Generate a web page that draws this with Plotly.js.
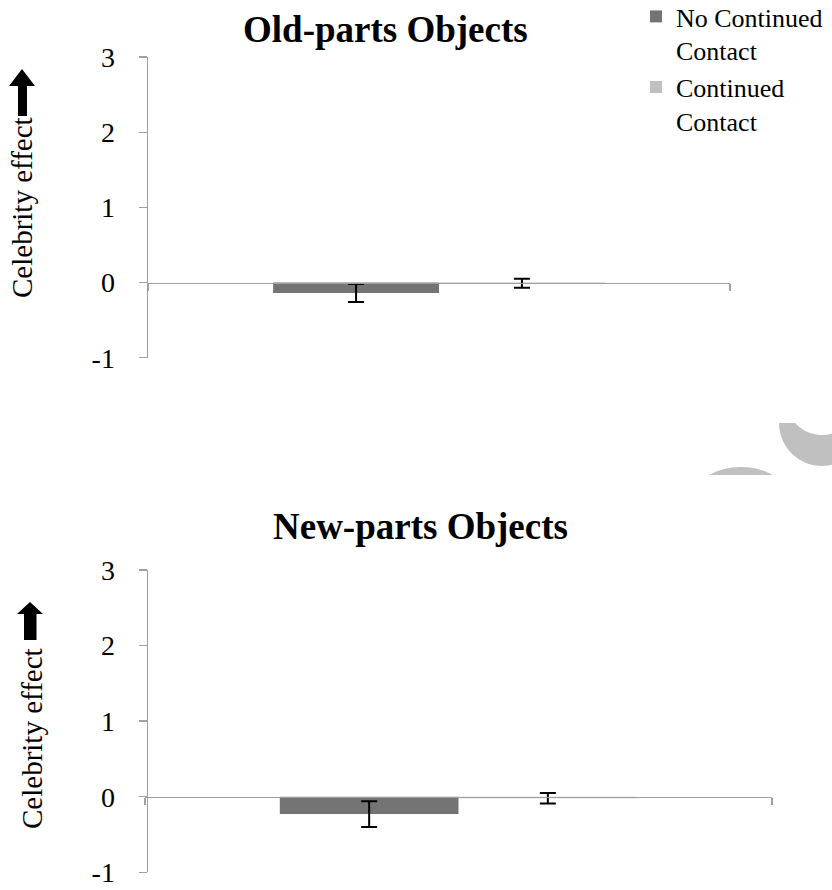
<!DOCTYPE html>
<html>
<head>
<meta charset="utf-8">
<script src="https://cdn.plot.ly/plotly-3.0.1.min.js"></script>
<style>html,body{margin:0;padding:0;background:#fff;}#chart{width:832px;height:890px;}</style>
</head>
<body>
<div id="chart"></div>
<script>
// ---- data ----
const categoriesTop = ['Old-parts Objects'];
const categoriesBottom = ['New-parts Objects'];
const seriesLabels = ['No Continued<br>Contact', 'Continued<br>Contact'];
const oldNoContact = [-0.14];
const oldNoContactErr = [0.12];
const oldContact = [-0.01];
const oldContactErr = [0.06];
const newNoContact = [-0.23];
const newNoContactErr = [0.17];
const newContact = [-0.02];
const newContactErr = [0.07];
const yTicks = [-1, 0, 1, 2, 3];
const yTickText = ['-1', '0', '1', '2', '3'];
const yTitle = 'Celebrity effect';

// ---- helpers (pixel -> paper, margins are zero) ----
const W = 832, H = 890;
const px = x => x / W;
const py = y => 1 - y / H;
function path(pts) {
  return 'M' + pts.map(p => px(p[0]).toFixed(5) + ',' + py(p[1]).toFixed(5)).join(' L') + ' Z';
}
function arc(cx, cy, r, a0, a1, n) {
  const out = [];
  for (let i = 0; i <= n; i++) {
    const a = (a0 + (a1 - a0) * i / n) * Math.PI / 180;
    out.push([cx + r * Math.cos(a), cy + r * Math.sin(a)]);
  }
  return out;
}

const FONT = 'Liberation Serif, Times New Roman, serif';
const darkC = '#747474';
const lightC = '#c0c0c0';
const axisC = '#a0a0a0';

// domains (pixel positions of axes)
const topDom = {x: [px(148), px(730)], y: [py(357.7), py(57.2)]};
const botDom = {x: [px(145), px(772)], y: [py(872.3), py(570)]};
const zeroPos = d => d.y[0] + (0 - (-1)) / 4 * (d.y[1] - d.y[0]);

function errBar(arr) {
  return {type: 'data', array: arr, visible: true, color: '#000', thickness: 2, width: 8};
}

const traces = [
  {type: 'bar', x: categoriesTop, y: oldNoContact, name: seriesLabels[0], legendgroup: 'a',
   marker: {color: darkC}, error_y: errBar(oldNoContactErr), xaxis: 'x', yaxis: 'y'},
  {type: 'bar', x: categoriesTop, y: oldContact, name: seriesLabels[1], legendgroup: 'b',
   marker: {color: lightC}, error_y: errBar(oldContactErr), xaxis: 'x', yaxis: 'y'},
  {type: 'bar', x: categoriesBottom, y: newNoContact, name: seriesLabels[0], legendgroup: 'a', showlegend: false,
   marker: {color: darkC}, error_y: errBar(newNoContactErr), xaxis: 'x2', yaxis: 'y2'},
  {type: 'bar', x: categoriesBottom, y: newContact, name: seriesLabels[1], legendgroup: 'b', showlegend: false,
   marker: {color: lightC}, error_y: errBar(newContactErr), xaxis: 'x2', yaxis: 'y2'}
];

function yAxis(dom) {
  return {domain: dom.y, range: [-1, 3], tickvals: yTicks, ticktext: yTickText, showline: true, linecolor: axisC, linewidth: 1.5,
    ticks: 'outside', ticklen: 8, tickcolor: axisC, tickwidth: 1.5, showgrid: false, zeroline: false, automargin: false,
    tickfont: {family: FONT, size: 28, color: '#000'}, ticklabelstandoff: 18, fixedrange: true};
}
function xAxis(dom) {
  return {domain: dom.x, type: 'category', range: [-0.5, 0.5], anchor: 'free', position: zeroPos(dom),
    showline: true, linecolor: axisC, linewidth: 1.5, ticks: 'outside', tickson: 'boundaries', ticklen: 7, automargin: false,
    tickcolor: axisC, tickwidth: 1.5, showticklabels: false, showgrid: false, zeroline: false, fixedrange: true};
}

// decorative grey crescent and cap on the right edge
const ringOuter = arc(822, 423, 43, 180, 0, 40);
const innerA0 = Math.atan2(423 - 399, 26.83) * 180 / Math.PI;
const ringInner = arc(822, 399, 36, innerA0, 180 - innerA0, 30);
const crescent = ringOuter.concat(ringInner);
const capA = Math.asin((535 - 475) / 68) * 180 / Math.PI;
const cap = arc(741, 535, 68, 180 + capA, 360 - capA, 30);

const layout = {
  width: W, height: H,
  margin: {l: 0, r: 0, t: 0, b: 0, autoexpand: false},
  paper_bgcolor: '#fff', plot_bgcolor: 'rgba(0,0,0,0)',
  barmode: 'group', bargap: 0.43, bargroupgap: 0,
  showlegend: true,
  legend: {x: px(636), y: py(-7), xanchor: 'left', yanchor: 'top', traceorder: 'normal', valign: 'top',
    font: {family: FONT, size: 26, color: '#000'}, bgcolor: 'rgba(0,0,0,0)', borderwidth: 0},
  xaxis: xAxis(topDom),
  yaxis: yAxis(topDom),
  xaxis2: xAxis(botDom),
  yaxis2: yAxis(botDom),
  annotations: [
    {text: '<b>Old-parts Objects</b>', xref: 'paper', yref: 'paper', x: px(385), y: py(30), xanchor: 'center', yanchor: 'middle',
     showarrow: false, font: {family: FONT, size: 37, color: '#000'}},
    {text: '<b>New-parts Objects</b>', xref: 'paper', yref: 'paper', x: px(420), y: py(526), xanchor: 'center', yanchor: 'middle',
     showarrow: false, font: {family: FONT, size: 37, color: '#000'}},
    {text: yTitle, xref: 'paper', yref: 'paper', x: px(22), y: py(208), xanchor: 'center', yanchor: 'middle', textangle: -90,
     showarrow: false, font: {family: FONT, size: 29, color: '#000'}},
    {text: yTitle, xref: 'paper', yref: 'paper', x: px(32), y: py(739), xanchor: 'center', yanchor: 'middle', textangle: -90,
     showarrow: false, font: {family: FONT, size: 29, color: '#000'}}
  ],
  shapes: [
    {type: 'path', xref: 'paper', yref: 'paper', fillcolor: '#000', line: {width: 0},
     path: path([[22, 69], [35, 86], [27, 86], [27, 116], [18, 116], [18, 86], [9, 86]])},
    {type: 'path', xref: 'paper', yref: 'paper', fillcolor: '#000', line: {width: 0},
     path: path([[30, 602], [43, 614], [36.5, 614], [36.5, 640], [24, 640], [24, 614], [17, 614]])},
    {type: 'path', xref: 'paper', yref: 'paper', fillcolor: lightC, line: {width: 0}, path: path(crescent)},
    {type: 'path', xref: 'paper', yref: 'paper', fillcolor: lightC, line: {width: 0}, path: path(cap)}
  ]
};

Plotly.newPlot('chart', traces, layout, {displayModeBar: false, staticPlot: true});
</script>
</body>
</html>
